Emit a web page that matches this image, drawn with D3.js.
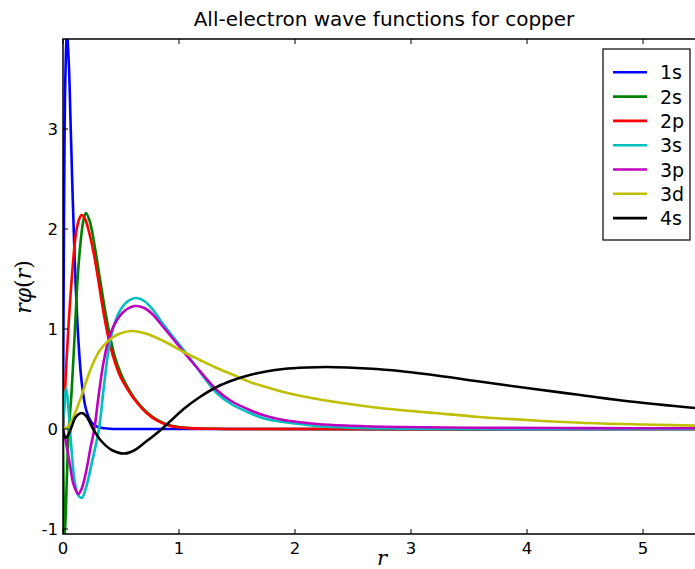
<!DOCTYPE html>
<html>
<head>
  <style>
    body { margin: 0; padding: 0; background: white; }
    svg { display: block; font-family: "DejaVu Sans", sans-serif; }
  </style>
</head>
<body>
  <div id="chart"></div>
  <script src="https://cdnjs.cloudflare.com/ajax/libs/d3/7.8.5/d3.min.js"></script>
  <script>
    // orbital names, in drawing order
    const orbitals = ['1s', '2s', '2p', '3s', '3p', '3d', '4s'];
    const colors = ['#0000ff', '#008000', '#ff0000', '#00bfbf', '#bf00bf', '#bfbf00', '#000000'];

    // [r, r*phi(r)]
    const wf1s = [[0,0],[0.005,1.3],[0.01,2.34],[0.02,3.5],[0.034,3.96],[0.05,3.66],[0.07,2.87],[0.1,1.72],[0.13,0.94],[0.16,0.48],[0.2,0.19],[0.25,0.06],[0.3,0.02],[0.4,0.003],[0.6,0],[5.6,0]];
    const wf2s = [[0,0],[0.005,-0.6],[0.012,-1.08],[0.02,-0.95],[0.033,-0.5],[0.05,0],[0.07,0.3],[0.085,0.6],[0.103,0.99],[0.123,1.45],[0.15,1.85],[0.175,2.08],[0.198,2.16],[0.23,2.08],[0.27,1.85],[0.32,1.49],[0.37,1.14],[0.41,0.9],[0.45,0.71],[0.5,0.55],[0.55,0.43],[0.62,0.3],[0.72,0.17],[0.82,0.085],[0.92,0.038],[1.05,0.013],[1.3,0.002],[1.6,0],[5.6,0]];
    const wf2p = [[0,0],[0.01,0.2],[0.02,0.45],[0.032,0.72],[0.05,1.08],[0.075,1.5],[0.1,1.84],[0.118,2.0],[0.14,2.1],[0.161,2.14],[0.19,2.1],[0.22,1.99],[0.261,1.78],[0.3,1.52],[0.35,1.16],[0.405,0.84],[0.45,0.66],[0.5,0.51],[0.55,0.41],[0.62,0.29],[0.72,0.16],[0.82,0.078],[0.92,0.033],[1.05,0.011],[1.3,0.002],[1.6,0],[5.6,0]];
    const wf3s = [[0,0],[0.01,0.25],[0.026,0.41],[0.04,0.3],[0.06,0],[0.08,-0.3],[0.1,-0.52],[0.13,-0.66],[0.161,-0.69],[0.2,-0.58],[0.25,-0.33],[0.31,0],[0.35,0.4],[0.39,0.77],[0.43,1.0],[0.48,1.16],[0.55,1.27],[0.63,1.31],[0.7,1.28],[0.77,1.2],[0.85,1.07],[0.95,0.92],[1.04,0.79],[1.15,0.62],[1.325,0.36],[1.45,0.25],[1.61,0.16],[1.75,0.1],[1.9,0.07],[2.19,0.03],[2.47,0.013],[2.9,0.004],[3.5,0],[5.6,0]];
    const wf3p = [[0,0],[0.02,-0.1],[0.06,-0.36],[0.09,-0.55],[0.132,-0.65],[0.16,-0.6],[0.2,-0.42],[0.235,-0.2],[0.27,0],[0.31,0.36],[0.35,0.67],[0.4,0.92],[0.46,1.08],[0.53,1.18],[0.62,1.23],[0.7,1.21],[0.77,1.15],[0.85,1.04],[0.95,0.9],[1.04,0.77],[1.15,0.62],[1.325,0.39],[1.45,0.28],[1.61,0.19],[1.75,0.13],[1.9,0.09],[2.19,0.05],[2.47,0.033],[2.9,0.02],[3.5,0.013],[4.5,0.009],[5.6,0.007]];
    const wf3d = [[0,0],[0.04,0.02],[0.089,0.12],[0.15,0.3],[0.204,0.49],[0.26,0.66],[0.32,0.79],[0.4,0.89],[0.48,0.95],[0.59,0.98],[0.68,0.965],[0.75,0.94],[0.9,0.86],[1.04,0.77],[1.18,0.69],[1.325,0.61],[1.47,0.54],[1.61,0.47],[1.75,0.42],[1.9,0.37],[2.19,0.3],[2.47,0.25],[2.73,0.21],[2.9,0.19],[3.2,0.16],[3.59,0.12],[4.0,0.09],[4.46,0.063],[5.0,0.045],[5.6,0.03]];
    const wf4s = [[0,0],[0.008,-0.06],[0.025,-0.09],[0.05,-0.05],[0.08,0.04],[0.11,0.12],[0.16,0.16],[0.2,0.13],[0.26,0],[0.33,-0.12],[0.42,-0.21],[0.53,-0.245],[0.62,-0.21],[0.7,-0.14],[0.79,-0.06],[0.89,0.04],[1.04,0.2],[1.18,0.32],[1.325,0.42],[1.47,0.49],[1.61,0.54],[1.75,0.575],[1.9,0.6],[2.1,0.615],[2.27,0.62],[2.45,0.615],[2.62,0.605],[2.9,0.58],[3.16,0.545],[3.59,0.475],[4.03,0.405],[4.46,0.34],[4.89,0.275],[5.45,0.21],[5.6,0.195]];
    const series = [wf1s, wf2s, wf2p, wf3s, wf3p, wf3d, wf4s];

    const xTicks = [0, 1, 2, 3, 4, 5];
    const yTicks = [-1, 0, 1, 2, 3];

    const width = 695, height = 569;
    const margin = { left: 63, top: 39, right: -10, bottom: 35 };
    const plotW = width - margin.left - margin.right;
    const plotH = height - margin.top - margin.bottom;

    const svg = d3.select('#chart').append('svg')
      .attr('width', width)
      .attr('height', height);

    const x = d3.scaleLinear().domain([0, 5.534]).range([0, plotW]);
    const y = d3.scaleLinear().domain([-1.05, 3.9]).range([plotH, 0]);

    const g = svg.append('g').attr('transform', `translate(${margin.left},${margin.top})`);

    g.append('clipPath').attr('id', 'clip')
      .append('rect').attr('width', plotW).attr('height', plotH);

    const line = d3.line()
      .x(d => x(d[0]))
      .y(d => y(d[1]))
      .curve(d3.curveCatmullRom.alpha(0.5));

    g.append('g').attr('clip-path', 'url(#clip)')
      .selectAll('path')
      .data(series)
      .enter()
      .append('path')
      .attr('d', line)
      .attr('fill', 'none')
      .attr('stroke', (d, i) => colors[i])
      .attr('stroke-width', 2.6)
      .attr('stroke-linejoin', 'round');

    // frame
    g.append('rect')
      .attr('width', plotW).attr('height', plotH)
      .attr('fill', 'none').attr('stroke', '#000').attr('stroke-width', 1.5);

    // ticks pointing inward, matplotlib style
    const tickLen = 5;
    g.selectAll('.xtick-b').data(xTicks).enter().append('line')
      .attr('x1', d => x(d)).attr('x2', d => x(d))
      .attr('y1', plotH).attr('y2', plotH - tickLen)
      .attr('stroke', '#000');
    g.selectAll('.xtick-t').data(xTicks).enter().append('line')
      .attr('x1', d => x(d)).attr('x2', d => x(d))
      .attr('y1', 0).attr('y2', tickLen)
      .attr('stroke', '#000');
    g.selectAll('.ytick').data(yTicks).enter().append('line')
      .attr('x1', 0).attr('x2', tickLen)
      .attr('y1', d => y(d)).attr('y2', d => y(d))
      .attr('stroke', '#000');

    g.selectAll('.xlabel').data(xTicks).enter().append('text')
      .attr('x', d => x(d)).attr('y', plotH + 20)
      .attr('text-anchor', 'middle')
      .attr('font-size', 16.5)
      .text(d => d);
    g.selectAll('.ylabel').data(yTicks).enter().append('text')
      .attr('x', -5).attr('y', d => y(d) + 6)
      .attr('text-anchor', 'end')
      .attr('font-size', 16.5)
      .text(d => d);

    // title
    svg.append('text')
      .attr('x', 384).attr('y', 26)
      .attr('text-anchor', 'middle')
      .attr('font-size', 20)
      .text('All-electron wave functions for copper');

    // axis labels
    svg.append('text')
      .attr('x', 382).attr('y', 565)
      .attr('text-anchor', 'middle')
      .attr('font-family', '"DejaVu Serif", serif')
      .attr('font-style', 'italic')
      .attr('font-size', 21)
      .text('r');

    const yl = svg.append('text')
      .attr('transform', 'translate(31,287) rotate(-90)')
      .attr('text-anchor', 'middle')
      .attr('font-family', '"DejaVu Serif", serif')
      .attr('font-size', 22);
    yl.append('tspan').attr('font-style', 'italic').text('rφ');
    yl.append('tspan').text('(');
    yl.append('tspan').attr('font-style', 'italic').text('r');
    yl.append('tspan').text(')');

    // legend
    const legend = svg.append('g').attr('transform', 'translate(603,49)');
    legend.append('rect')
      .attr('width', 87).attr('height', 191)
      .attr('fill', 'white').attr('stroke', '#000').attr('stroke-width', 1.2);
    const rows = legend.selectAll('.row').data(orbitals).enter().append('g')
      .attr('transform', (d, i) => `translate(0,${23.3 + i * 24.3})`);
    rows.append('line')
      .attr('x1', 10).attr('x2', 44)
      .attr('stroke', (d, i) => colors[i])
      .attr('stroke-width', 2.6);
    rows.append('text')
      .attr('x', 57).attr('y', 7)
      .attr('font-size', 19)
      .text(d => d);
  </script>
</body>
</html>
